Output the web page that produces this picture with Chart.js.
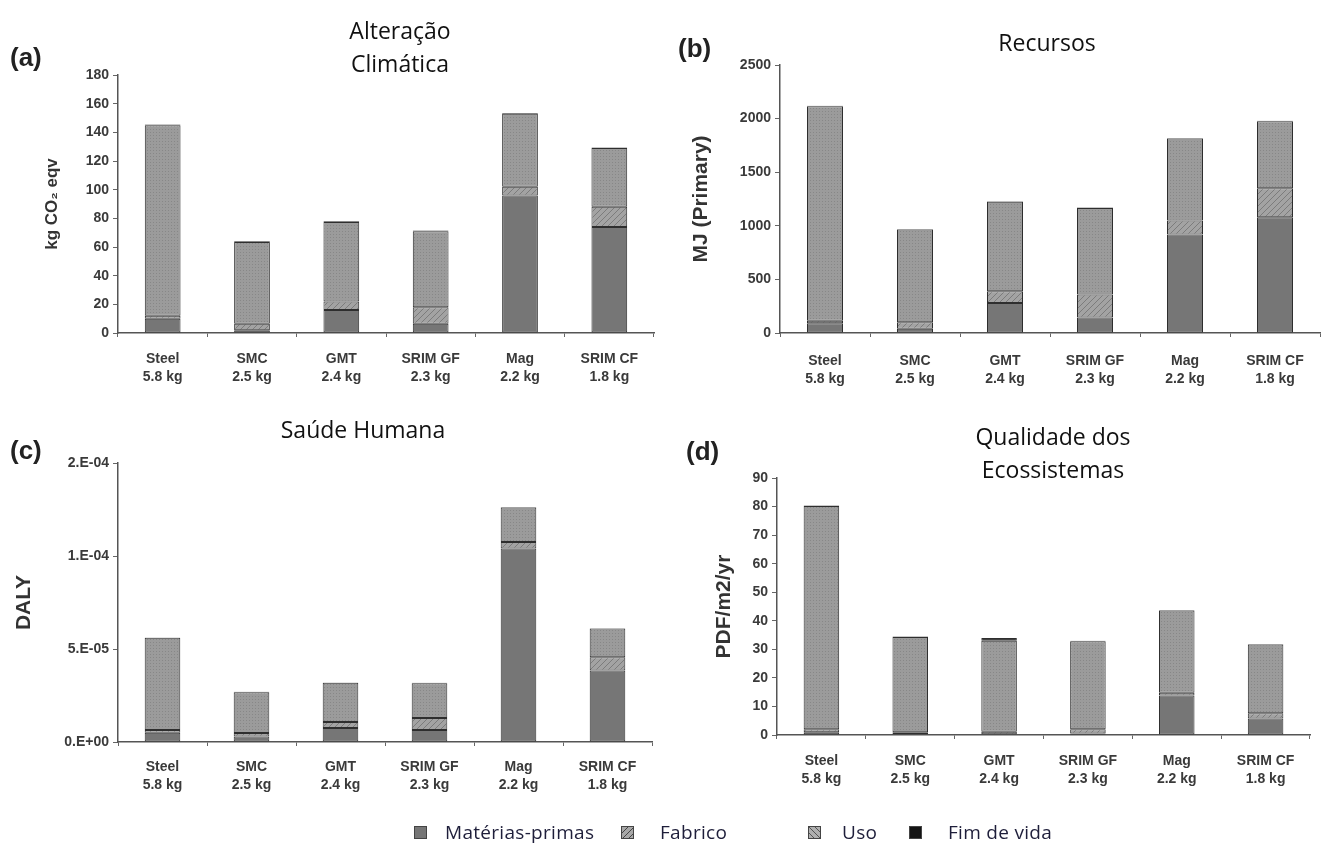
<!DOCTYPE html>
<html>
<head>
<meta charset="utf-8">
<script src="https://cdn.jsdelivr.net/npm/chart.js@4.4.1/dist/chart.umd.min.js"></script>
<style>
    body { margin: 0; background: #fff; }
    #wrap { position: relative; width: 1324px; height: 845px; overflow: hidden; font-family: "Open Sans", "Noto Sans", sans-serif; }
    canvas { position: absolute; }
    .painel { position: absolute; font-family: "Liberation Sans", Arial, sans-serif; font-weight: bold; font-size: 26px; color: #222; }
    .titulo { position: absolute; font-size: 23px; color: #111; text-align: center; line-height: 33px; }
    .leg { position: absolute; top: 820px; font-size: 19px; letter-spacing: 0.3px; color: #1e1e3a; line-height: 24px; }
    .sw { position: absolute; top: 826px; width: 11px; height: 11px; border: 1px solid #444; }
</style>
</head>
<body>
<div id="wrap">
    <canvas id="graficoA" width="660" height="400" style="left:0;top:0"></canvas>
    <canvas id="graficoB" width="664" height="400" style="left:660px;top:0"></canvas>
    <canvas id="graficoC" width="660" height="400" style="left:0;top:420px"></canvas>
    <canvas id="graficoD" width="664" height="400" style="left:660px;top:420px"></canvas>

    <div class="painel" style="left:10px;top:42px">(a)</div>
    <div class="painel" style="left:678px;top:33px">(b)</div>
    <div class="painel" style="left:10px;top:435px">(c)</div>
    <div class="painel" style="left:686px;top:436px">(d)</div>

    <div class="titulo" style="left:290px;top:14px;width:220px">Alteração<br>Climática</div>
    <div class="titulo" style="left:937px;top:26px;width:220px">Recursos</div>
    <div class="titulo" style="left:253px;top:413px;width:220px">Saúde Humana</div>
    <div class="titulo" style="left:943px;top:420px;width:220px">Qualidade dos<br>Ecossistemas</div>

    <canvas id="swMat" class="sw" width="11" height="11" style="left:414px"></canvas>
    <div class="leg" style="left:445px">Matérias-primas</div>
    <canvas id="swFab" class="sw" width="11" height="11" style="left:621px"></canvas>
    <div class="leg" style="left:660px">Fabrico</div>
    <canvas id="swUso" class="sw" width="11" height="11" style="left:808px"></canvas>
    <div class="leg" style="left:842px">Uso</div>
    <canvas id="swFim" class="sw" width="11" height="11" style="left:909px"></canvas>
    <div class="leg" style="left:948px">Fim de vida</div>
</div>

<script>
// categorias (material e massa da peça)
const categorias = [
    ['Steel', '5.8 kg'],
    ['SMC', '2.5 kg'],
    ['GMT', '2.4 kg'],
    ['SRIM GF', '2.3 kg'],
    ['Mag', '2.2 kg'],
    ['SRIM CF', '1.8 kg']
];
const nomesSeries = ['Matérias-primas', 'Fabrico', 'Uso', 'Fim de vida'];

// (a) Alteração Climática - kg CO2 eqv
const climaMaterias = [10, 2, 16, 6.5, 96, 74];
const climaFabrico = [2, 4.5, 6, 11.5, 6, 14];
const climaUso = [133, 57, 55.5, 53, 51, 41];
const climaFim = [0.5, 0.5, 0.5, 0.5, 0.5, 0.5];

// (b) Recursos - MJ (Primary)
const recursosMaterias = [90, 40, 280, 145, 920, 1080];
const recursosFabrico = [25, 60, 110, 215, 130, 270];
const recursosUso = [2000, 865, 835, 805, 765, 625];
const recursosFim = [5, 5, 5, 5, 5, 5];

// (c) Saúde Humana - DALY
const saudeMaterias = [5.0e-6, 3.0e-6, 7.5e-6, 6.5e-6, 1.04e-4, 3.85e-5];
const saudeFabrico = [1.5e-6, 1.8e-6, 3.3e-6, 6.4e-6, 3.5e-6, 7.0e-6];
const saudeUso = [4.95e-5, 2.2e-5, 2.1e-5, 1.87e-5, 1.86e-5, 1.55e-5];
const saudeFim = [2e-7, 2e-7, 2e-7, 2e-7, 2e-7, 2e-7];
const saudeTicks = [0, 5e-5, 1e-4, 1.5e-4];
const saudeTickLabels = ['0.E+00', '5.E-05', '1.E-04', '2.E-04'];

// (d) Qualidade dos Ecossistemas - PDF/m2/yr
const ecoMaterias = [1, 0.3, 0.3, 0.5, 13.8, 5.8];
const ecoFabrico = [1, 0.7, 0.8, 1.5, 1, 1.8];
const ecoUso = [78.2, 33.3, 31.9, 30.8, 28.8, 24.1];
const ecoFim = [0.2, 0.2, 1.0, 0.2, 0.2, 0.2];

function padrao(base, tinta, tipo) {
    const c = document.createElement('canvas');
    c.width = 6; c.height = 6;
    const g = c.getContext('2d');
    g.fillStyle = base;
    g.fillRect(0, 0, 6, 6);
    g.fillStyle = tinta;
    if (tipo === 'pontos') {
        g.fillRect(0, 0, 1, 1);
        g.fillRect(3, 3, 1, 1);
        g.fillRect(3, 0, 1, 1);
        g.fillRect(0, 3, 1, 1);
    } else if (tipo === 'barra') {
        for (let i = 0; i < 6; i++) g.fillRect(i, i, 1, 1);
    } else {
        for (let i = 0; i < 6; i++) g.fillRect(i, 5 - i, 1, 1);
    }
    return g.createPattern(c, 'repeat');
}

const corMaterias = '#767676';
const corFabrico = padrao('#a3a3a3', '#7c7c7c', 'riscas');
const corUso = padrao('#9b9b9b', '#878787', 'pontos');
const corFim = '#141414';

const fonteEixo = { family: '"Liberation Sans", Arial, sans-serif', weight: 'bold' };

function criarGrafico(id, series, cfg) {
    const cores = [corMaterias, corFabrico, corUso, corFim];
    const ctx = document.getElementById(id);
    const altura = ctx.height;
    return new Chart(ctx, {
        type: 'bar',
        data: {
            labels: categorias,
            datasets: series.map(function (valores, i) {
                return {
                    label: nomesSeries[i],
                    data: valores,
                    backgroundColor: cores[i],
                    borderColor: '#2e2e2e',
                    borderWidth: 1,
                    borderSkipped: false,
                    barPercentage: 0.4,
                    categoryPercentage: 1
                };
            })
        },
        options: {
            responsive: false,
            animation: false,
            layout: { padding: { top: cfg.topo, right: cfg.direita, left: 0, bottom: 0 } },
            plugins: {
                legend: { display: false },
                tooltip: { enabled: false }
            },
            scales: {
                x: {
                    stacked: true,
                    afterFit: function (scale) { scale.height = altura - cfg.base; },
                    border: { color: '#555', width: 1.5 },
                    grid: { drawOnChartArea: false, tickLength: 4, color: '#666' },
                    ticks: {
                        color: '#3a3a3a',
                        padding: cfg.padX,
                        maxRotation: 0,
                        autoSkip: false,
                        font: Object.assign({ size: 14, lineHeight: 1.3 }, fonteEixo)
                    }
                },
                y: {
                    stacked: true,
                    min: 0,
                    max: cfg.max,
                    afterFit: function (scale) { scale.width = cfg.esquerda; },
                    afterBuildTicks: cfg.ticksFixos ? function (scale) {
                        scale.ticks = cfg.ticksFixos.map(function (v) { return { value: v }; });
                    } : undefined,
                    border: { color: '#555', width: 1.5 },
                    grid: { drawOnChartArea: false, tickLength: 5, color: '#666' },
                    ticks: {
                        stepSize: cfg.passo,
                        color: '#3a3a3a',
                        padding: 4,
                        font: Object.assign({ size: 14 }, fonteEixo),
                        callback: cfg.rotulos ? function (v, i) { return cfg.rotulos[i]; } : undefined
                    },
                    title: {
                        display: true,
                        text: cfg.tituloY,
                        color: '#333',
                        padding: { top: cfg.padTitulo, bottom: 0 },
                        font: Object.assign({ size: cfg.fonteTitulo }, fonteEixo)
                    }
                }
            }
        }
    });
}

criarGrafico('graficoA', [climaMaterias, climaFabrico, climaUso, climaFim], {
    topo: 75, direita: 6, base: 333, esquerda: 118, padX: 13,
    max: 180, passo: 20, tituloY: 'kg CO₂ eqv', padTitulo: 42, fonteTitulo: 17
});

criarGrafico('graficoB', [recursosMaterias, recursosFabrico, recursosUso, recursosFim], {
    topo: 65, direita: 4, base: 333, esquerda: 120, padX: 15,
    max: 2500, passo: 500, tituloY: 'MJ (Primary)', padTitulo: 29, fonteTitulo: 21
});

criarGrafico('graficoC', [saudeMaterias, saudeFabrico, saudeUso, saudeFim], {
    topo: 43, direita: 8, base: 322, esquerda: 118, padX: 12,
    max: 1.5e-4, ticksFixos: saudeTicks, rotulos: saudeTickLabels,
    tituloY: 'DALY', padTitulo: 12, fonteTitulo: 21
});

criarGrafico('graficoD', [ecoMaterias, ecoFabrico, ecoUso, ecoFim], {
    topo: 58, direita: 14, base: 315, esquerda: 117, padX: 13,
    max: 90, passo: 10, tituloY: 'PDF/m2/yr', padTitulo: 52, fonteTitulo: 21
});

// amostras da legenda
[['swMat', corMaterias], ['swFab', padrao('#a8a8a8', '#444', 'riscas')], ['swUso', padrao('#b0b0b0', '#555', 'barra')], ['swFim', corFim]].forEach(function (p) {
    const g = document.getElementById(p[0]).getContext('2d');
    g.fillStyle = p[1];
    g.fillRect(0, 0, 11, 11);
});
</script>
</body>
</html>
